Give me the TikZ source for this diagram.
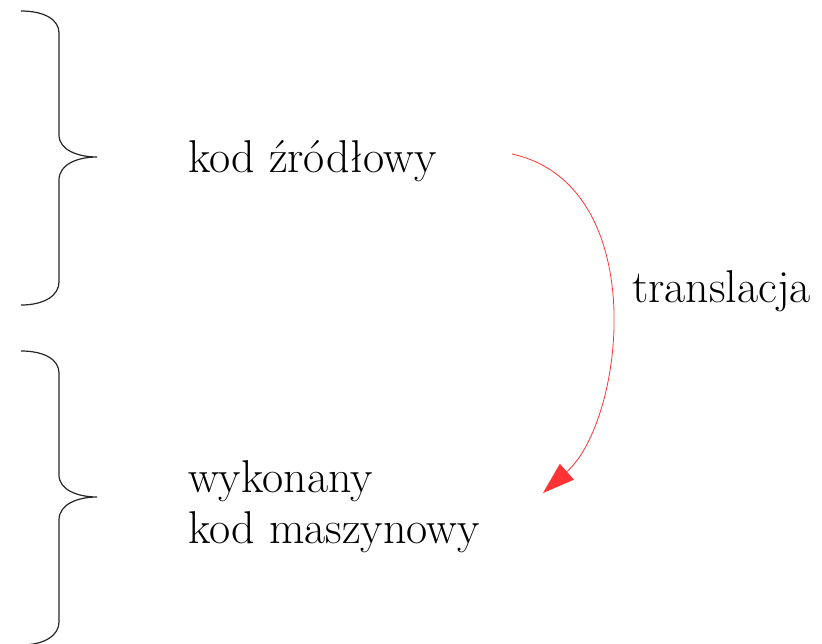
\documentclass[tikz,border=0pt]{standalone}
\usepackage{fontspec}
\usetikzlibrary{arrows.meta}
\begin{document}
\begin{tikzpicture}[x=1pt,y=-1pt,
  label text/.style={font=\fontsize{46}{51}\selectfont, inner sep=0pt, align=left},
  bracepath/.style={draw=black!85, line width=1.2pt},
  flow/.style={draw=red!80!white, line width=0.8pt,
    -{Triangle[length=32pt,width=21pt,fill=red!80!white]}}]
\useasboundingbox (0,0) rectangle (822,643);

% curly braces on the left
\foreach \dy in {0,340}{
  \draw[bracepath] (21,11+\dy) .. controls (45,11+\dy) and (59,20+\dy) .. (59,33+\dy)
    -- (59,135+\dy) .. controls (59,150+\dy) and (78,157+\dy) .. (97,157+\dy)
    .. controls (78,157+\dy) and (59,164+\dy) .. (59,180+\dy)
    -- (59,282+\dy) .. controls (59,295+\dy) and (45,305+\dy) .. (21,305+\dy);
}

% texts
\node[label text, anchor=base west] (src) at (188,172) {kod źródłowy};
\node[label text, anchor=base west] (exe) at (188,543) {wykonany\\kod maszynowy};
\node[label text, anchor=base west] (tr) at (632,302) {translacja};

% translation arrow
\coordinate (a0) at (512,154);
\coordinate (a1) at (543,493);
\draw[flow] (a0) .. controls (652,185) and (625,420) .. (a1);
\end{tikzpicture}
\end{document}
